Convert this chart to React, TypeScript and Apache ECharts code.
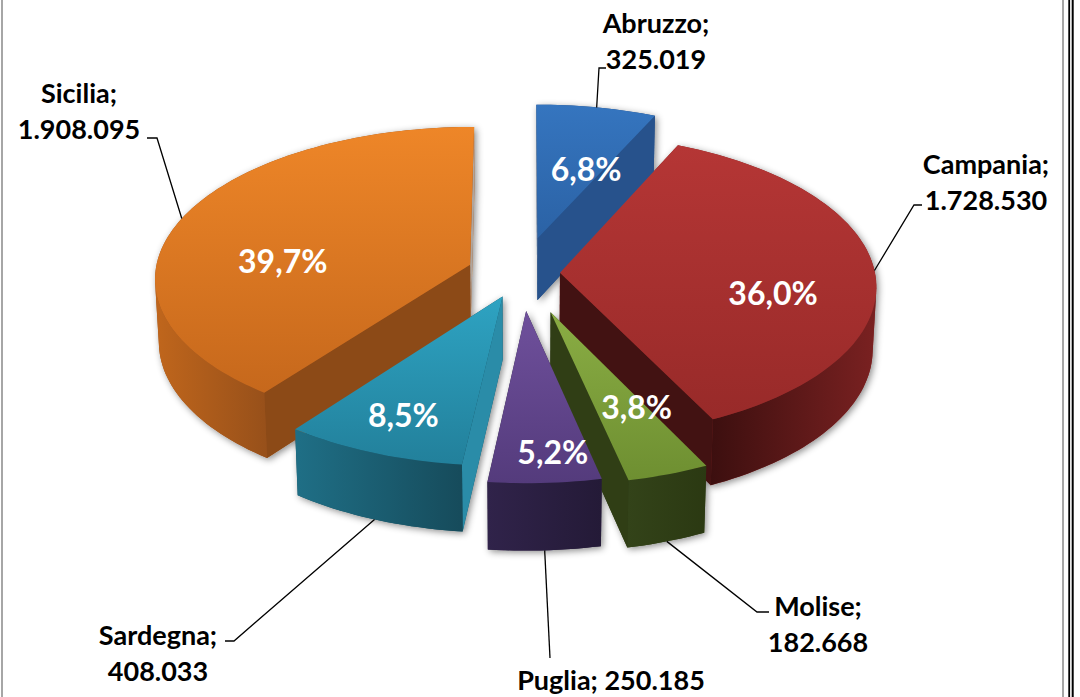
import React, { useEffect, useRef } from "react";
import * as echarts from "echarts";

// ---- data ----
const categories = ["Abruzzo", "Campania", "Molise", "Puglia", "Sardegna", "Sicilia"];
const values = [325019, 1728530, 182668, 250185, 408033, 1908095];

// ---- styles / layout (not data) ----
const explodeDist = [75, 38, 85, 78, 52, 55];
const topColors = [
  ["#3575BF", "#2B62A5"],
  ["#B53635", "#982A29"],
  ["#8AAD44", "#6E8F31"],
  ["#6F509C", "#543B7C"],
  ["#2EA3C2", "#22809B"],
  ["#EE8628", "#C6681C"],
];
const wallColors = [
  ["#23497D", "#23497D"],
  ["#3C0F0F", "#7A2121"],
  ["#334319", "#2B3912"],
  ["#30234A", "#241A37"],
  ["#1F6F86", "#164B5B"],
  ["#C0661C", "#97501A"],
];
const radialColors = [
  ["#9DA6B3", "#27528C"],
  ["#5A1A1A", "#421212"],
  ["#4A5E22", "#303E15"],
  ["#3A2A55", "#3A2A55"],
  ["#2A8CA8", "#1E6A80"],
  ["#8C4A17", "#B0A59C"],
];
const innerLabelAt = [
  [0.75, 0.53],
  [0.59, 0.68],
  [0.17, 0.62],
  [0.38, 0.83],
  [0.51, 0.77],
  [0.39, 0.6],
];
const outerLabelLayout = [
  { x: 656, y: 22, two: true, elbow: [599, 68], end: [606, 68] },
  { x: 986, y: 163, two: true, elbow: [914, 205], end: [922, 205] },
  { x: 818, y: 605, two: true, elbow: [757, 612], end: [769, 612] },
  { x: 611, y: 679, two: false, elbow: [550, 658], end: [550, 658] },
  { x: 158, y: 634, two: true, elbow: [234, 641], end: [225, 641] },
  { x: 79, y: 92, two: true, elbow: [157, 138], end: [147, 138] },
];

// ---- 3D projection ----
const SUM = values.reduce((a, b) => a + b, 0);
const cumStart = values.map((_, i) => values.slice(0, i).reduce((a, b) => a + b, 0));
const PHI = (28.6 * Math.PI) / 180;
const SP = Math.sin(PHI);
const CP = Math.cos(PHI);
const R = 315;
const T = 72;
const F = 3275;
const CX = 522;
const CY = 273;
const cam = [0, F * CP, F * SP];
const toRad = (d: number) => (d * Math.PI) / 180;

function proj(X: number, Z: number, h: number) {
  const yc = -Z * SP + h * CP;
  const zc = Z * CP + h * SP;
  const s = F / (F - zc);
  return [CX + X * s, CY - yc * s, zc];
}

function hull(pts: number[][]) {
  const p = pts.map((q) => [q[0], q[1]]).sort((u, v) => u[0] - v[0] || u[1] - v[1]);
  const cross = (o: number[], a: number[], b: number[]) =>
    (a[0] - o[0]) * (b[1] - o[1]) - (a[1] - o[1]) * (b[0] - o[0]);
  const lower: number[][] = [];
  for (const q of p) {
    while (lower.length >= 2 && cross(lower[lower.length - 2], lower[lower.length - 1], q) <= 0) lower.pop();
    lower.push(q);
  }
  const upper: number[][] = [];
  for (let k = p.length - 1; k >= 0; k--) {
    const q = p[k];
    while (upper.length >= 2 && cross(upper[upper.length - 2], upper[upper.length - 1], q) <= 0) upper.pop();
    upper.push(q);
  }
  upper.pop();
  lower.pop();
  return lower.concat(upper);
}

const fmtNum = (v: number) => String(v).replace(/\B(?=(\d{3})+(?!\d))/g, ".");
const fmtPct = (v: number) => ((v / SUM) * 100).toFixed(1).replace(".", ",") + "%";

const FONT = "Lato, 'Open Sans', sans-serif";

function renderItem(params: any, api: any) {
  const i = params.dataIndex;
  const v = api.value(0);
  const a = (cumStart[i] / SUM) * 360;
  const b = a + (v / SUM) * 360;
  const m = (a + b) / 2;
  const e = explodeDist[i];
  const ex = e * Math.sin(toRad(m));
  const ez = -e * Math.cos(toRad(m));
  const W = (th: number, r: number, h: number) => [
    ex + r * Math.sin(toRad(th)),
    ez - r * Math.cos(toRad(th)),
    h,
  ];
  const P = (w: number[]) => proj(w[0], w[1], w[2]);
  const xy = (p: number[]) => [p[0], p[1]];
  const n = Math.max(8, Math.ceil((b - a) / 1.5));
  const children: any[] = [];

  // soft shadow under the silhouette
  const sil: number[][] = [P(W(0, 0, 0)), P(W(0, 0, -T))];
  for (let j = 0; j <= n; j++) {
    const th = a + ((b - a) * j) / n;
    sil.push(P(W(th, R, 0)), P(W(th, R, -T)));
  }
  children.push({
    type: "polygon",
    z2: 100,
    shape: { points: hull(sil) },
    style: {
      fill: wallColors[i][1],
      shadowBlur: 7,
      shadowColor: "rgba(0,0,0,0.45)",
      shadowOffsetX: 2,
      shadowOffsetY: 2,
    },
  });

  // top face
  const topPts = [P(W(0, 0, 0))];
  for (let j = 0; j <= n; j++) topPts.push(P(W(a + ((b - a) * j) / n, R, 0)));
  children.push({
    type: "polygon",
    z2: 5000,
    shape: { points: topPts.map(xy) },
    style: {
      fill: new echarts.graphic.LinearGradient(0, 0, 0, 1, [
        { offset: 0, color: topColors[i][0] },
        { offset: 1, color: topColors[i][1] },
      ]),
    },
  });

  // radial walls
  const radial = (th: number, nAng: number, color: string) => {
    const nx = Math.sin(toRad(nAng));
    const nz = -Math.cos(toRad(nAng));
    const c = W(th, R / 2, -T / 2);
    if (nx * (cam[0] - c[0]) + nz * (cam[1] - c[1]) <= 0) return;
    const q = [W(th, 0, 0), W(th, R, 0), W(th, R, -T), W(th, 0, -T)].map(P);
    children.push({
      type: "polygon",
      z2: 2000 + proj(c[0], c[1], c[2])[2],
      shape: { points: q.map(xy) },
      style: { fill: color },
    });
  };
  radial(a, a - 90, radialColors[i][0]);
  radial(b, b + 90, radialColors[i][1]);

  // outer curved wall
  let run: number[] = [];
  const flush = () => {
    if (run.length >= 2) {
      const top = run.map((t) => P(W(t, R, 0)));
      const bot = run.map((t) => P(W(t, R, -T))).reverse();
      const tm = (run[0] + run[run.length - 1]) / 2;
      const c = W(tm, R, -T / 2);
      children.push({
        type: "polygon",
        z2: 2000 + proj(c[0], c[1], c[2])[2],
        shape: { points: [...top, ...bot].map(xy) },
        style: {
          fill: new echarts.graphic.LinearGradient(0, 0, 1, 0, [
            { offset: 0, color: wallColors[i][0] },
            { offset: 1, color: wallColors[i][1] },
          ]),
        },
      });
    }
    run = [];
  };
  for (let j = 0; j < n; j++) {
    const t0 = a + ((b - a) * j) / n;
    const t1 = a + ((b - a) * (j + 1)) / n;
    const tm = (t0 + t1) / 2;
    const c = W(tm, R, -T / 2);
    const nx = Math.sin(toRad(tm));
    const nz = -Math.cos(toRad(tm));
    const vis = nx * (cam[0] - c[0]) + nz * (cam[1] - c[1]) > 0;
    if (vis) {
      if (run.length === 0) run.push(t0);
      run.push(t1);
    } else flush();
  }
  flush();

  // inner percentage label
  const [af, rf] = innerLabelAt[i];
  const lp = P(W(a + (b - a) * af, R * rf, 0));
  children.push({
    type: "text",
    z2: 6000,
    x: lp[0],
    y: lp[1],
    style: {
      text: fmtPct(v),
      fill: "#FFFFFF",
      fontSize: 32,
      fontWeight: "bold",
      fontFamily: FONT,
      align: "center",
      verticalAlign: "middle",
    },
  });

  // outer label + leader
  const L = outerLabelLayout[i];
  const useBottom = Math.cos(toRad(m)) < -0.3;
  const sp = P(W(m, R, useBottom ? -T : 0));
  children.push({
    type: "polyline",
    z2: 6000,
    shape: { points: [xy(sp), L.elbow, L.end] },
    style: { stroke: "#000000", lineWidth: 1.3, fill: null },
  });
  const lines = L.two
    ? [categories[i] + ";", fmtNum(v)]
    : [categories[i] + "; " + fmtNum(v)];
  lines.forEach((txt, k) => {
    children.push({
      type: "text",
      z2: 6000,
      x: L.x,
      y: L.y + k * 36,
      style: {
        text: txt,
        fill: "#000000",
        fontSize: 27,
        fontWeight: "bold",
        fontFamily: FONT,
        align: "center",
        verticalAlign: "middle",
      },
    });
  });

  return { type: "group", children };
}

export default function App() {
  const ref = useRef<HTMLDivElement>(null);
  useEffect(() => {
    const chart = echarts.init(ref.current!, null, { renderer: "svg" });
    chart.setOption({
      animation: false,
      backgroundColor: "#FFFFFF",
      graphic: [
        { type: "line", shape: { x1: 2, y1: 0, x2: 2, y2: 697 }, style: { stroke: "#A6A6A6", lineWidth: 2 } },
        { type: "line", shape: { x1: 1063, y1: 0, x2: 1063, y2: 697 }, style: { stroke: "#A6A6A6", lineWidth: 2 } },
        { type: "line", shape: { x1: 1069.2, y1: 0, x2: 1069.2, y2: 697 }, style: { stroke: "#000000", lineWidth: 1.8 } },
        { type: "line", shape: { x1: 1072.7, y1: 0, x2: 1072.7, y2: 697 }, style: { stroke: "#000000", lineWidth: 2 } },
      ],
      series: [
        {
          type: "custom",
          coordinateSystem: "none",
          silent: true,
          data: values.map((v) => [v]),
          renderItem,
        },
      ],
    });
    return () => chart.dispose();
  }, []);
  return (
    <div
      ref={ref}
      style={{ position: "absolute", left: 0, top: 0, width: 1080, height: 697 }}
    />
  );
}
